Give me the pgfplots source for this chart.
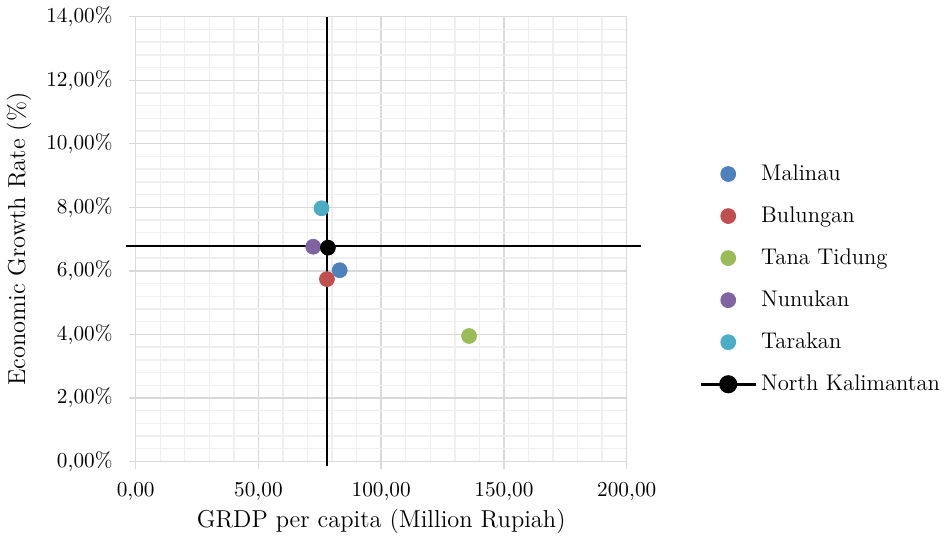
\documentclass[border=0pt]{standalone}
\usepackage{fontspec}
\usepackage{pgfplots}
\pgfplotsset{compat=1.18}
\definecolor{cMal}{HTML}{4F81BD}
\definecolor{cBul}{HTML}{C0504D}
\definecolor{cTan}{HTML}{9BBB59}
\definecolor{cNun}{HTML}{8064A2}
\definecolor{cTar}{HTML}{4BACC6}
\definecolor{majg}{HTML}{D9D9D9}
\definecolor{ming}{HTML}{EFEFEF}
\begin{document}
\begin{tikzpicture}
\begin{axis}[
  scale only axis,
  width=244bp, height=221bp,
  xmin=0, xmax=200, ymin=0, ymax=14,
  xtick={0,50,...,200}, ytick={0,2,...,14},
  minor x tick num=4, minor y tick num=4,
  grid=both,
  major grid style={color=majg, line width=0.7pt},
  minor grid style={color=ming, line width=0.7pt},
  axis line style={majg, line width=0.7pt},
  tick style={majg, line width=0.7pt},
  tick align=outside,
  major tick length=3.5bp,
  minor tick length=0pt,
  xtick pos=bottom, ytick pos=left,
  clip=false,
  /pgf/number format/.cd, fixed, fixed zerofill, precision=2, use comma, assume math mode=true,
  /pgfplots/.cd,
  yticklabel={\pgfmathprintnumber{\tick}\%},
  ticklabel style={font=\fontsize{10.6}{12}\selectfont},
  yticklabel style={xshift=-4.5bp},
  xticklabel style={yshift=-3.5bp},
  xlabel={GRDP per capita (Million Rupiah)},
  ylabel={Economic Growth Rate (\%)},
  label style={font=\fontsize{12.2}{14}\selectfont},
  xlabel style={at={(axis description cs:0.5,0)}, anchor=base, yshift=-33bp},
  ylabel style={at={(axis description cs:0,0.5)}, anchor=center, yshift=58bp},
  legend style={draw=none, fill=none, at={(1.148,0.41)}, anchor=west, inner xsep=0pt,
    font=\fontsize{11.3}{13}\selectfont, row sep=7.6bp,
    /tikz/every even column/.append style={column sep=0bp}},
  legend cell align=left,
  legend image code/.code={\draw[mark repeat=2,mark phase=2,#1] plot coordinates {(0cm,0cm) (0.47cm,0cm) (0.95cm,0cm)};},
]
\addplot[only marks, mark=*, mark size=3.7bp, draw=cMal, fill=cMal] coordinates {(83.1,6.02)};
\addlegendentry{Malinau}
\addplot[only marks, mark=*, mark size=3.7bp, draw=cBul, fill=cBul] coordinates {(77.9,5.74)};
\addlegendentry{Bulungan}
\addplot[only marks, mark=*, mark size=3.7bp, draw=cTan, fill=cTan] coordinates {(135.8,3.95)};
\addlegendentry{Tana Tidung}
\addplot[only marks, mark=*, mark size=3.7bp, draw=cNun, fill=cNun] coordinates {(72.3,6.76)};
\addlegendentry{Nunukan}
\addplot[only marks, mark=*, mark size=3.7bp, draw=cTar, fill=cTar] coordinates {(75.7,7.97)};
\addlegendentry{Tarakan}
\addplot[black, line width=1bp, forget plot] coordinates {(-4,6.78) (205.8,6.78)};
\addplot[black, line width=1bp, forget plot] coordinates {(78.1,-0.15) (78.1,14)};
\addplot[only marks, mark=*, mark size=3.7bp, draw=black, fill=black, forget plot] coordinates {(78.3,6.73)};
\addlegendimage{black, line width=1.6bp, mark=*, mark size=3.7bp}
\addlegendentry{North Kalimantan}
\end{axis}
\end{tikzpicture}
\end{document}
